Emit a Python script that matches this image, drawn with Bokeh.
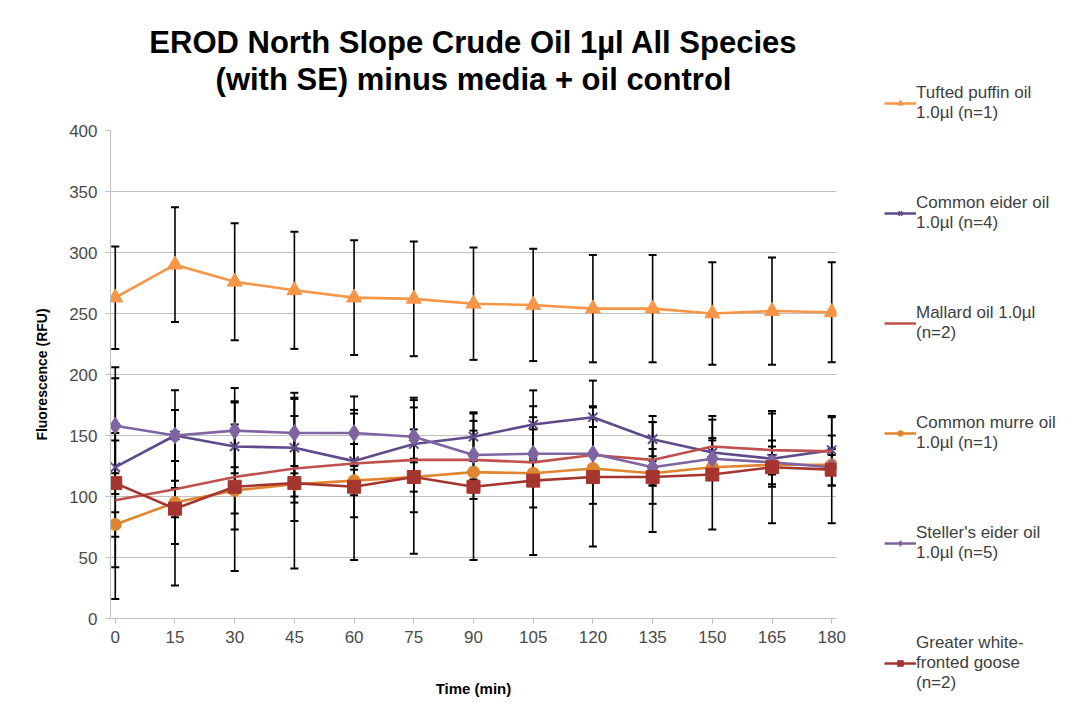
from bokeh.plotting import figure
from bokeh.models import (Range1d, FixedTicker, Whisker, ColumnDataSource, Legend,
                          LegendItem, TeeHead, Title)
from bokeh.embed import file_html
from bokeh.resources import INLINE

time_min = [0, 15, 30, 45, 60, 75, 90, 105, 120, 135, 150, 165, 180]

puffin_mean = [263, 290, 276, 269, 263, 262, 258, 257, 254, 254, 250, 252, 251]
puffin_se = [42, 47, 48, 48, 47, 47, 46, 46, 44, 44, 42, 44, 41]

eider_mean = [124, 150, 141, 140, 129, 143, 149, 159, 165, 147, 136, 131, 138]
eider_se = [22, 21, 37, 40, 14, 12, 20, 28, 30, 14, 12, 10, 12]

mallard_mean = [97, 106, 116, 123, 127, 130, 130, 128, 134, 130, 141, 138, 137]
mallard_se = [55, 45, 43, 43, 44, 43, 32, 37, 40, 36, 25, 30, 28]

murre_mean = [77, 95, 105, 110, 113, 116, 120, 119, 123, 119, 124, 126, 126]
murre_se = [10, 12, 19, 15, 12, 12, 10, 10, 10, 10, 8, 8, 8]

steller_mean = [158, 150, 154, 152, 152, 149, 134, 135, 135, 124, 131, 128, 124]
steller_se = [39, 37, 35, 33, 30, 32, 20, 20, 22, 15, 15, 18, 15]

goose_mean = [111, 90, 108, 111, 108, 116, 108, 113, 116, 116, 118, 124, 122]
goose_se = [95, 63, 69, 70, 60, 63, 60, 61, 57, 45, 45, 46, 44]

series_labels = [
    "Tufted puffin oil\n1.0µl (n=1)",
    "Common eider oil\n1.0µl (n=4)",
    "Mallard oil 1.0µl\n(n=2)",
    "Common murre oil\n1.0µl (n=1)",
    "Steller's eider oil\n1.0µl (n=5)",
    "Greater white-\nfronted goose\n(n=2)",
]
y_ticks = [0, 50, 100, 150, 200, 250, 300, 350, 400]
title_line1 = "EROD North Slope Crude Oil 1µl All Species"
title_line2 = "(with SE) minus media + oil control"

series = [
    (puffin_mean, puffin_se, "#F79646", "triangle", 15),
    (eider_mean, eider_se, "#5F4A8B", "x", 13),
    (mallard_mean, mallard_se, "#C0504D", None, 0),
    (murre_mean, murre_se, "#E0852E", "circle", 12),
    (steller_mean, steller_se, "#8064A2", "diamond", 17),
    (goose_mean, goose_se, "#A5352F", "square", 13),
]

TXT = "#404040"
FONT = "'Liberation Sans', Arial, sans-serif"

p = figure(frame_width=726, frame_height=488, output_backend="svg", toolbar_location=None,
           x_range=Range1d(-1.2, 181.2), y_range=Range1d(0, 400),
           min_border_left=110, min_border_right=0, min_border_bottom=90, min_border_top=130)
p.outline_line_color = None
p.background_fill_color = "white"
p.border_fill_color = "white"

def make_title(text, size, standoff):
    return Title(text=text, align="center", text_font=FONT, text_font_size=size,
                 text_font_style="bold", text_color="black", standoff=standoff, offset=15)

# nearest the plot first
p.add_layout(make_title(" ", "2px", 30), "above")
p.add_layout(make_title(title_line2, "31px", 0), "above")
p.add_layout(make_title(title_line1, "31px", 0), "above")

# axes
p.xgrid.grid_line_color = None
p.ygrid.grid_line_color = "#BFBFBF"
p.ygrid.grid_line_width = 1
p.yaxis.ticker = FixedTicker(ticks=y_ticks)
p.xaxis.ticker = FixedTicker(ticks=time_min)
for ax in (p.xaxis, p.yaxis):
    ax.axis_line_color = "#BFBFBF"
    ax.major_tick_line_color = "#BFBFBF"
    ax.minor_tick_line_color = None
    ax.major_tick_in = 0
    ax.major_tick_out = 5
    ax.major_label_text_font = FONT
    ax.major_label_text_font_size = "17px"
    ax.major_label_text_color = "#4A4A4A"
    ax.axis_label_text_font = FONT
    ax.axis_label_text_font_style = "bold"
    ax.axis_label_text_color = "black"
p.xaxis.axis_label = "Time (min)"
p.yaxis.axis_label = "Fluorescence (RFU)"
p.xaxis.axis_label_text_font_size = "15px"
p.yaxis.axis_label_text_font_size = "14px"
p.xaxis.axis_label_standoff = 34
p.yaxis.axis_label_standoff = 16
p.xaxis.major_label_standoff = 7
p.yaxis.major_label_standoff = 8

# error bars
for mean, se, color, marker, size in series:
    src = ColumnDataSource(dict(x=time_min,
                                lo=[m - s for m, s in zip(mean, se)],
                                hi=[m + s for m, s in zip(mean, se)]))
    w = Whisker(source=src, base="x", lower="lo", upper="hi", dimension="height",
                line_color="black", line_width=1.6,
                upper_head=TeeHead(size=8, line_color="black", line_width=2),
                lower_head=TeeHead(size=8, line_color="black", line_width=2))
    p.add_layout(w)

items = []
for (mean, se, color, marker, size), label in zip(series, series_labels):
    src = ColumnDataSource(dict(x=time_min, y=mean))
    rs = [p.line("x", "y", source=src, line_color=color, line_width=2.6)]
    if marker is not None:
        if marker == "x":
            rs.append(p.scatter("x", "y", source=src, marker="x", size=size,
                                line_color=color, line_width=2))
        else:
            rs.append(p.scatter("x", "y", source=src, marker=marker, size=size,
                                fill_color=color, line_color=color))
    items.append(LegendItem(label=label, renderers=rs))

legend = Legend(items=items, location=(48, -75), spacing=70, padding=0, margin=0,
                label_text_font=FONT, label_text_font_size="17px", label_text_color=TXT,
                label_standoff=0, glyph_width=32, glyph_height=14,
                border_line_color=None, background_fill_alpha=0)
p.add_layout(legend, "right")

open("out.html", "w").write(file_html(p, INLINE))
